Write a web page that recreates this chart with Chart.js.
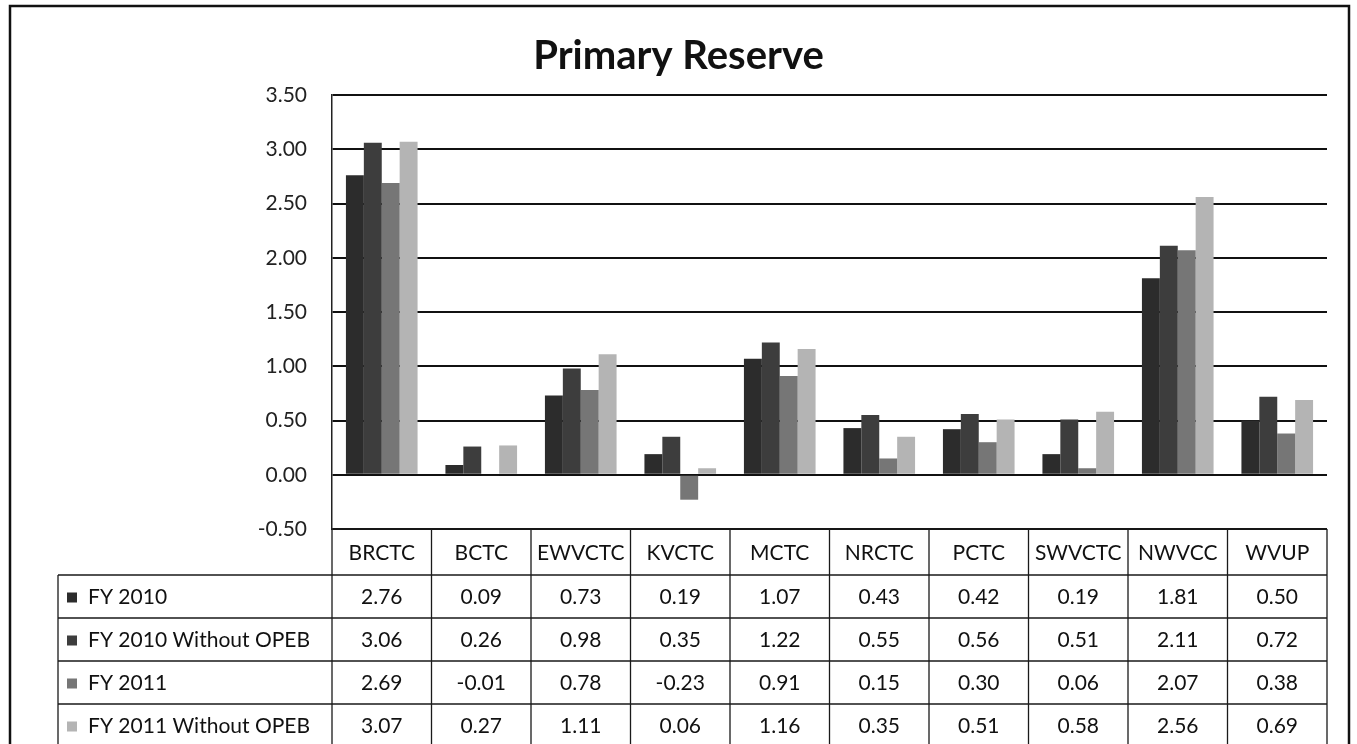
<!DOCTYPE html>
<html>
<head>
<meta charset="utf-8">
<title>Primary Reserve</title>
<script src="https://cdn.jsdelivr.net/npm/chart.js@4/dist/chart.umd.min.js"></script>
<style>
  html, body { margin: 0; padding: 0; background: #fff; }
  canvas { display: block; }
</style>
</head>
<body>
<canvas id="reserveChart" width="1357" height="744"></canvas>
<script>
const categories = ['BRCTC', 'BCTC', 'EWVCTC', 'KVCTC', 'MCTC', 'NRCTC', 'PCTC', 'SWVCTC', 'NWVCC', 'WVUP'];
const seriesNames = ['FY 2010', 'FY 2010 Without OPEB', 'FY 2011', 'FY 2011 Without OPEB'];
const fy2010 = [2.76, 0.09, 0.73, 0.19, 1.07, 0.43, 0.42, 0.19, 1.81, 0.50];
const fy2010NoOpeb = [3.06, 0.26, 0.98, 0.35, 1.22, 0.55, 0.56, 0.51, 2.11, 0.72];
const fy2011 = [2.69, -0.01, 0.78, -0.23, 0.91, 0.15, 0.30, 0.06, 2.07, 0.38];
const fy2011NoOpeb = [3.07, 0.27, 1.11, 0.06, 1.16, 0.35, 0.51, 0.58, 2.56, 0.69];
const yMin = -0.5, yMax = 3.5, yStep = 0.5;

const seriesColors = ['#2c2c2c', '#3d3d3d', '#767676', '#b4b4b4'];
const allSeries = [fy2010, fy2010NoOpeb, fy2011, fy2011NoOpeb];
const FONT = 'Lato, "DejaVu Sans", sans-serif';

// tabela de dados + moldura, desenhadas a partir das escalas do gráfico
const dataTablePlugin = {
  id: 'dataTable',
  beforeDraw(chart) {
    const c = chart.ctx;
    c.save();
    c.fillStyle = '#fff';
    c.fillRect(0, 0, chart.width, chart.height);
    c.restore();
  },
  afterDraw(chart) {
    const c = chart.ctx;
    const area = chart.chartArea;
    const x = chart.scales.x;
    const colW = (area.right - area.left) / categories.length;
    const headTop = area.bottom;
    const headH = 46;
    const rowH = 43;
    const legendLeft = 58;

    c.save();
    c.strokeStyle = '#1a1a1a';
    c.lineWidth = 1.3;
    c.fillStyle = '#111';
    c.font = '21px ' + FONT;
    c.textBaseline = 'middle';

    // linhas horizontais
    const bodyTop = headTop + headH;
    c.beginPath();
    c.moveTo(area.left, headTop); c.lineTo(area.right, headTop);
    for (let r = 0; r < allSeries.length; r++) {
      const yy = bodyTop + r * rowH;
      c.moveTo(legendLeft, yy); c.lineTo(area.right, yy);
    }
    // linhas verticais
    c.moveTo(legendLeft, bodyTop); c.lineTo(legendLeft, chart.height);
    for (let i = 0; i <= categories.length; i++) {
      const xx = area.left + i * colW;
      c.moveTo(xx, headTop); c.lineTo(xx, chart.height);
    }
    c.stroke();

    // cabeçalho
    c.textAlign = 'center';
    categories.forEach((cat, i) => {
      c.fillText(cat, x.getPixelForValue(i), headTop + headH / 2 + 1);
    });

    // linhas de valores
    allSeries.forEach((vals, r) => {
      const cy = bodyTop + r * rowH + rowH / 2 + 1;
      c.fillStyle = seriesColors[r];
      c.fillRect(legendLeft + 9, cy - 5, 10, 10);
      c.fillStyle = '#111';
      c.textAlign = 'left';
      c.fillText(seriesNames[r], legendLeft + 30, cy);
      c.textAlign = 'center';
      vals.forEach((v, i) => {
        c.fillText(v.toFixed(2), x.getPixelForValue(i), cy);
      });
    });

    // moldura externa
    c.lineWidth = 2.5;
    c.strokeStyle = '#111';
    c.strokeRect(10, 6, 1339, 760);
    c.restore();
  }
};

const ctx = document.getElementById('reserveChart').getContext('2d');
const reserveChart = new Chart(ctx, {
  type: 'bar',
  data: {
    labels: categories,
    datasets: allSeries.map((vals, i) => ({
      label: seriesNames[i],
      data: vals,
      backgroundColor: seriesColors[i],
      borderWidth: 0,
      categoryPercentage: 0.72,
      barPercentage: 1.0
    }))
  },
  options: {
    responsive: false,
    animation: false,
    layout: { padding: { left: 0, right: 0, top: 0, bottom: 215 } },
    plugins: {
      legend: { display: false },
      tooltip: { enabled: false },
      title: {
        display: true,
        text: 'Primary Reserve',
        color: '#111',
        font: { family: FONT, size: 40, weight: 'bold' },
        padding: { top: 32, bottom: 15 }
      }
    },
    scales: {
      x: { display: false },
      y: {
        min: yMin,
        max: yMax,
        afterFit(scale) { scale.width = 332; },
        ticks: {
          stepSize: yStep,
          padding: 25,
          color: '#222',
          font: { family: FONT, size: 21 },
          callback: v => v.toFixed(2)
        },
        grid: { color: '#111', lineWidth: 2, drawTicks: false },
        border: { display: true, color: '#222', width: 1.5 }
      },
      // eixo vazio à direita, só para reservar a margem
      yRight: {
        position: 'right',
        display: true,
        afterFit(scale) { scale.width = 30; },
        ticks: { display: false },
        grid: { display: false, drawTicks: false },
        border: { display: false }
      }
    }
  },
  plugins: [dataTablePlugin]
});
</script>
</body>
</html>
